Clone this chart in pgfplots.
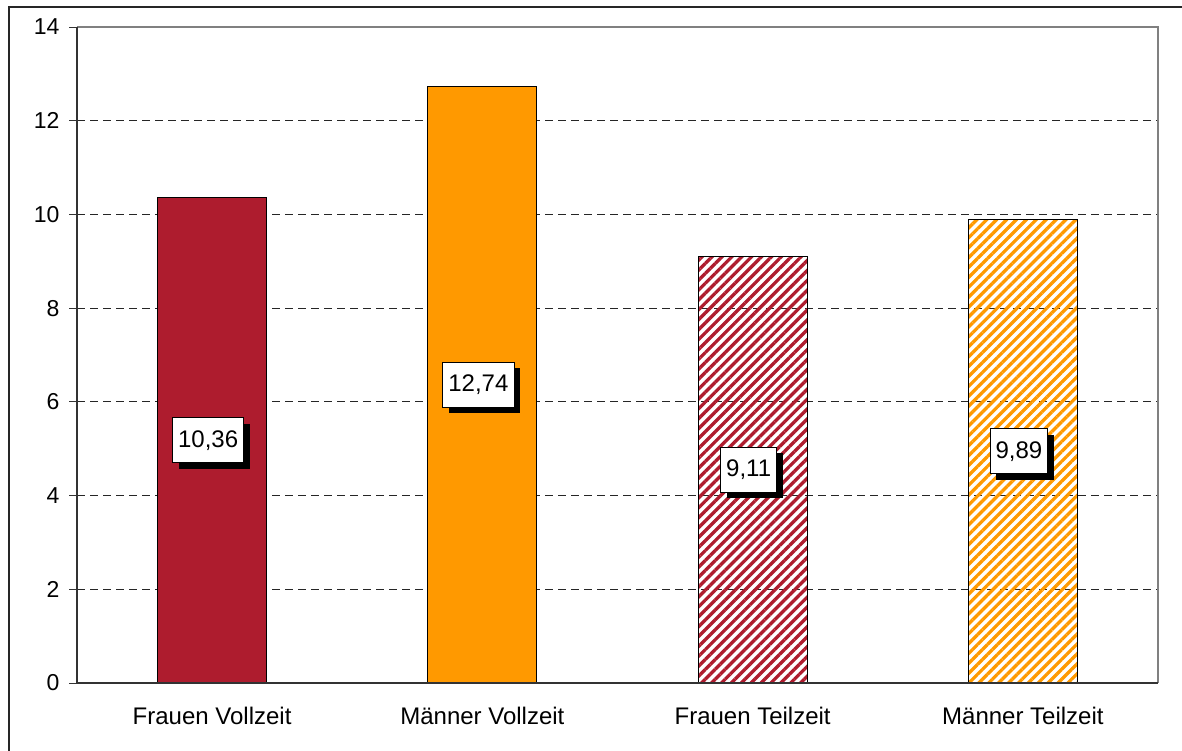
\documentclass[border=0pt]{standalone}
\usepackage{pgfplots}
\pgfplotsset{compat=1.18}
\usepackage{fontspec}
\setmainfont{Liberation Sans}
\usetikzlibrary{patterns.meta,shadows}
\definecolor{dred}{RGB}{174,28,46}
\definecolor{orng}{RGB}{255,153,0}
\begin{document}
\begin{tikzpicture}
\useasboundingbox (0,0) rectangle (1182pt,751pt);
\draw[line width=2pt, black!85] (9pt,0) |- (1182pt,744pt);
\begin{axis}[
  at={(77pt,68pt)}, anchor=south west,
  width=1081pt, height=656pt, scale only axis,
  xmin=-0.5, xmax=3.5, ymin=0, ymax=14,
  xtick={0,1,2,3},
  xticklabels={Frauen Vollzeit, Männer Vollzeit, Frauen Teilzeit, Männer Teilzeit},
  ytick={0,2,...,14},
  ytick pos=left,
  x tick style={draw=none},
  y tick style={black!80, line width=0.8pt},
  tick align=outside,
  major tick length=8pt,
  ymajorgrids,
  grid style={black!85, line width=0.8pt, dash pattern=on 8pt off 5pt},
  axis line style={draw=none},
  /pgf/number format/assume math mode=true,
  yticklabel style={font=\fontsize{23}{27}\selectfont, xshift=-6pt},
  xticklabel style={font=\fontsize{24}{28}\selectfont, yshift=-13pt},
  bar width=109pt,
  clip=false,
]
\addplot[ybar, bar shift=0pt, fill=dred, draw=black, line width=1pt] coordinates {(0,10.36)};
\addplot[ybar, bar shift=0pt, fill=orng, draw=black, line width=1pt] coordinates {(1,12.74)};
\addplot[ybar, bar shift=0pt, draw=black, line width=1pt, pattern={Lines[angle=45,distance=7pt,line width=3.3pt]}, pattern color=dred] coordinates {(2,9.11)};
\addplot[ybar, bar shift=0pt, draw=black, line width=1pt, pattern={Lines[angle=45,distance=7pt,line width=3.3pt]}, pattern color=orng] coordinates {(3,9.89)};
\draw[gray, line width=1.2pt] (rel axis cs:0,1) -- (rel axis cs:1,1) -- (rel axis cs:1,0);
\draw[black!80, line width=1.2pt] (rel axis cs:0,1) -- (rel axis cs:0,0) -- (rel axis cs:1,0);
\addplot[draw=none, mark=none, nodes near coords, point meta=explicit symbolic,
  nodes near coords style={anchor=center, xshift=-4pt, fill=white, draw=black, line width=0.8pt,
    font=\fontsize{24}{28}\selectfont, inner xsep=5.5pt, minimum height=45pt,
    drop shadow={shadow xshift=6pt, shadow yshift=-6pt, fill=black, opacity=1}}]
  coordinates {(0,5.18)[10,36] (1,6.37)[12,74] (2,4.555)[9,11] (3,4.945)[9,89]};
\end{axis}
\end{tikzpicture}
\end{document}
